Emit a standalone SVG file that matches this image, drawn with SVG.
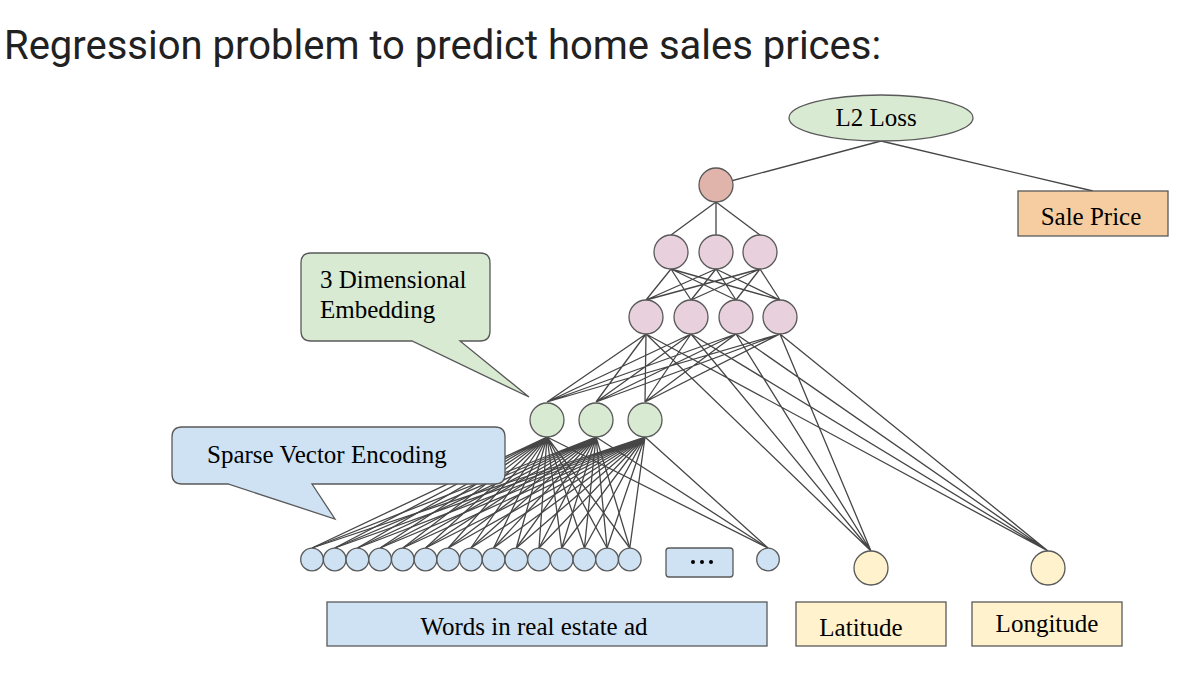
<svg xmlns="http://www.w3.org/2000/svg" width="1200" height="700" viewBox="0 0 1200 700">
<style>
.title{font-family:Roboto,"Liberation Sans",sans-serif;font-size:40px;fill:#212121}
.lbl{font-family:"Liberation Serif","Times New Roman",serif;font-size:25px;fill:#000}
.node{stroke:#595959;stroke-width:1.3}
.edge{stroke:#464646;stroke-width:1.3;fill:none}
.red{fill:#e0b4ab}.pink{fill:#e8d1dc}.green{fill:#d9ead3}.blue{fill:#cfe2f3}.yellow{fill:#fff2cc}.orange{fill:#f6cda0}
</style>
<rect width="1200" height="700" fill="#fff"/>
<text class="title" x="4" y="59">Regression problem to predict home sales prices:</text>

<g id="connectors">
<path class="edge" d="M881 141L716 185M881 141L1093 191"/>
<path class="edge" d="M716 202L671 235M716 202L716 235M716 202L760 235"/>
<path class="edge" d="M671 269L646 300M671 269L691 300M671 269L736 300M671 269L780 300M716 269L646 300M716 269L691 300M716 269L736 300M716 269L780 300M760 269L646 300M760 269L691 300M760 269L736 300M760 269L780 300"/>
<path class="edge" d="M646 334L547 402M646 334L596 402M646 334L645 402M691 334L547 402M691 334L596 402M691 334L645 402M736 334L547 402M736 334L596 402M736 334L645 402M780 334L547 402M780 334L596 402M780 334L645 402"/>
<path class="edge" d="M646 334L871 551M691 334L871 551M736 334L871 551M780 334L871 551M646 334L1048 551M691 334L1048 551M736 334L1048 551M780 334L1048 551"/>
<path class="edge" d="M547 437L312 548M547 437L334.7 548M547 437L357.4 548M547 437L380.1 548M547 437L402.8 548M547 437L425.5 548M547 437L448.2 548M547 437L470.9 548M547 437L493.6 548M547 437L516.3 548M547 437L539 548M547 437L561.7 548M547 437L584.4 548M547 437L607.1 548M547 437L629.8 548M547 437L768 548"/>
<path class="edge" d="M596 437L312 548M596 437L334.7 548M596 437L357.4 548M596 437L380.1 548M596 437L402.8 548M596 437L425.5 548M596 437L448.2 548M596 437L470.9 548M596 437L493.6 548M596 437L516.3 548M596 437L539 548M596 437L561.7 548M596 437L584.4 548M596 437L607.1 548M596 437L629.8 548M596 437L768 548"/>
<path class="edge" d="M645 437L312 548M645 437L334.7 548M645 437L357.4 548M645 437L380.1 548M645 437L402.8 548M645 437L425.5 548M645 437L448.2 548M645 437L470.9 548M645 437L493.6 548M645 437L516.3 548M645 437L539 548M645 437L561.7 548M645 437L584.4 548M645 437L607.1 548M645 437L629.8 548M645 437L768 548"/>
</g>

<g id="loss"><ellipse class="node green" cx="881" cy="118" rx="92" ry="23"/><text class="lbl" x="876" y="126" text-anchor="middle">L2 Loss</text></g>
<g id="sale-price"><rect class="node orange" x="1018" y="191" width="150" height="45"/><text class="lbl" x="1091" y="225" text-anchor="middle">Sale Price</text></g>
<g id="output-node"><circle class="node red" cx="716" cy="185" r="17"/></g>
<g id="hidden2">
<circle class="node pink" cx="671" cy="252" r="17"/><circle class="node pink" cx="716" cy="252" r="17"/><circle class="node pink" cx="760" cy="252" r="17"/>
</g>
<g id="hidden1">
<circle class="node pink" cx="646" cy="317" r="17"/><circle class="node pink" cx="691" cy="317" r="17"/><circle class="node pink" cx="736" cy="317" r="17"/><circle class="node pink" cx="780" cy="317" r="17"/>
</g>
<g id="embedding">
<circle class="node green" cx="547" cy="420" r="17"/><circle class="node green" cx="596" cy="420" r="17"/><circle class="node green" cx="645" cy="420" r="17"/>
</g>
<g id="sparse">
<circle class="node blue" cx="312" cy="559.5" r="11.3"/><circle class="node blue" cx="334.7" cy="559.5" r="11.3"/><circle class="node blue" cx="357.4" cy="559.5" r="11.3"/><circle class="node blue" cx="380.1" cy="559.5" r="11.3"/><circle class="node blue" cx="402.8" cy="559.5" r="11.3"/><circle class="node blue" cx="425.5" cy="559.5" r="11.3"/><circle class="node blue" cx="448.2" cy="559.5" r="11.3"/><circle class="node blue" cx="470.9" cy="559.5" r="11.3"/><circle class="node blue" cx="493.6" cy="559.5" r="11.3"/><circle class="node blue" cx="516.3" cy="559.5" r="11.3"/><circle class="node blue" cx="539" cy="559.5" r="11.3"/><circle class="node blue" cx="561.7" cy="559.5" r="11.3"/><circle class="node blue" cx="584.4" cy="559.5" r="11.3"/><circle class="node blue" cx="607.1" cy="559.5" r="11.3"/><circle class="node blue" cx="629.8" cy="559.5" r="11.3"/>
<circle class="node blue" cx="768" cy="559.5" r="11.3"/>
</g>
<g id="ellipsis"><rect class="node blue" x="666" y="548" width="67" height="29" rx="3"/><circle cx="693" cy="562" r="2" fill="#000"/><circle cx="702" cy="562" r="2" fill="#000"/><circle cx="711" cy="562" r="2" fill="#000"/></g>
<g id="latitude-node"><circle class="node yellow" cx="871" cy="568" r="17"/></g>
<g id="longitude-node"><circle class="node yellow" cx="1048" cy="568" r="17"/></g>
<g id="words-box"><rect class="node blue" x="327" y="602" width="440" height="44"/><text class="lbl" x="534" y="635" text-anchor="middle">Words in real estate ad</text></g>
<g id="latitude-box"><rect class="node yellow" x="796" y="602" width="150" height="44"/><text class="lbl" x="861" y="636" text-anchor="middle">Latitude</text></g>
<g id="longitude-box"><rect class="node yellow" x="972" y="602" width="150" height="44"/><text class="lbl" x="1047" y="632" text-anchor="middle">Longitude</text></g>

<g id="callout-embedding">
<path class="node green" d="M311 253H480Q490 253 490 263V331Q490 341 480 341H460L529 397L412 341H311Q301 341 301 331V263Q301 253 311 253Z"/>
<text class="lbl" x="320" y="288">3 Dimensional</text>
<text class="lbl" x="320" y="318">Embedding</text>
</g>
<g id="callout-sparse">
<path class="node blue" d="M182 427H495Q505 427 505 437V474Q505 484 495 484H312L335 519L228 484H182Q172 484 172 474V437Q172 427 182 427Z"/>
<text class="lbl" x="207" y="463">Sparse Vector Encoding</text>
</g>
</svg>
